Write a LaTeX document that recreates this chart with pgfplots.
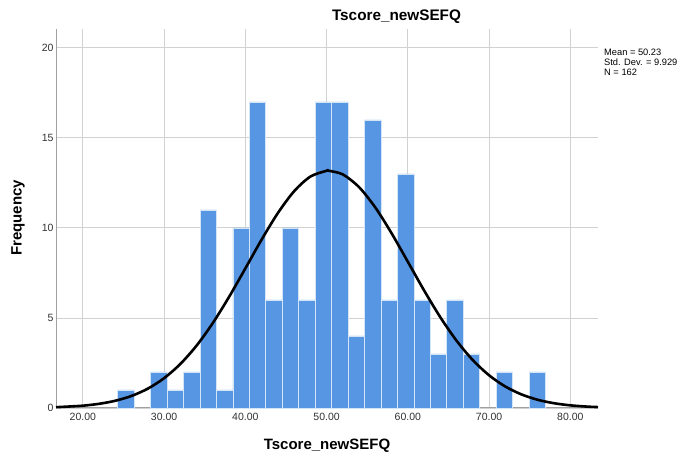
\documentclass[border=0pt]{standalone}
\usepackage{pgfplots}
\pgfplotsset{compat=1.18}
\usepackage{fontspec}
\setmainfont{Liberation Sans}
\definecolor{barblue}{RGB}{86,150,227}
\definecolor{gridgray}{RGB}{210,210,210}
\definecolor{axisgray}{RGB}{160,160,160}
\definecolor{ticktext}{RGB}{50,50,50}
\pgfplotstableread{
x y
25.31 1
29.36 2
31.39 1
33.41 2
35.44 11
37.46 1
39.49 10
41.51 17
43.54 6
45.56 10
47.59 6
49.61 17
51.64 17
53.66 4
55.69 16
57.71 6
59.74 13
61.76 6
63.79 3
65.81 6
67.84 3
71.89 2
75.94 2
}\bins
\pgfplotstableread{
x y
16.7 0.044
18 0.075
20 0.128
22 0.232
24 0.402
26 0.671
28 1.075
30 1.655
32 2.445
34 3.465
36 4.720
38 6.172
40 7.751
42 9.349
44 10.825
46 12.037
48 12.852
50 13.176
50.23 13.180
52 12.972
54 12.264
56 11.133
58 9.703
60 8.121
62 6.528
64 5.038
66 3.734
68 2.657
70 1.815
72 1.191
74 0.751
76 0.454
78 0.264
80 0.147
82 0.079
83.4 0.050
}\normalcurve
\begin{document}
\begin{tikzpicture}[x=1pt,y=1pt]
\path[use as bounding box] (0,0) rectangle (682,454);
\begin{axis}[
  at={(56pt,46pt)}, anchor=south west,
  scale only axis, width=542pt, height=379pt,
  xmin=16.7, xmax=83.4, ymin=0, ymax=21.05,
  axis x line*=bottom, axis y line*=left,
  axis line style={draw=axisgray, line width=1pt},
  xtick={20,30,40,50,60,70,80},
  xticklabels={20.00,30.00,40.00,50.00,60.00,70.00,80.00},
  ytick={0,5,10,15,20},
  yticklabels={0,5,10,15,20},
  tick style={draw=none},
  grid=major,
  major grid style={draw=gridgray, line width=0.9pt},
  ticklabel style={font=\fontsize{10.5}{12}\selectfont, text=ticktext},
  xticklabel style={yshift=-2pt},
  yticklabel style={xshift=1pt},
  clip=false,
]
\addplot[ybar, bar width=2.025, bar shift=0pt, fill=barblue, draw=white!75!barblue, line width=0.8pt] table[x=x,y=y] {\bins};
\addplot[black, line width=2.6pt, smooth, no marks] table[x=x,y=y] {\normalcurve};
\end{axis}
\node[font=\fontsize{15.3}{17}\selectfont\bfseries] at (396.5,437.5) {Tscore\_newSEFQ};
\node[font=\fontsize{15}{17}\selectfont\bfseries] at (327,8) {Tscore\_newSEFQ};
\node[font=\fontsize{15}{17}\selectfont\bfseries, rotate=90] at (18,236) {Frequency};
\node[font=\fontsize{9.3}{9.3}\selectfont, anchor=base west, inner sep=0pt] at (604,398) {Mean = 50.23};
\node[font=\fontsize{9.3}{9.3}\selectfont, anchor=base west, inner sep=0pt] at (604,388) {Std. Dev. = 9.929};
\node[font=\fontsize{9.3}{9.3}\selectfont, anchor=base west, inner sep=0pt] at (604,378) {N = 162};
\end{tikzpicture}
\end{document}
